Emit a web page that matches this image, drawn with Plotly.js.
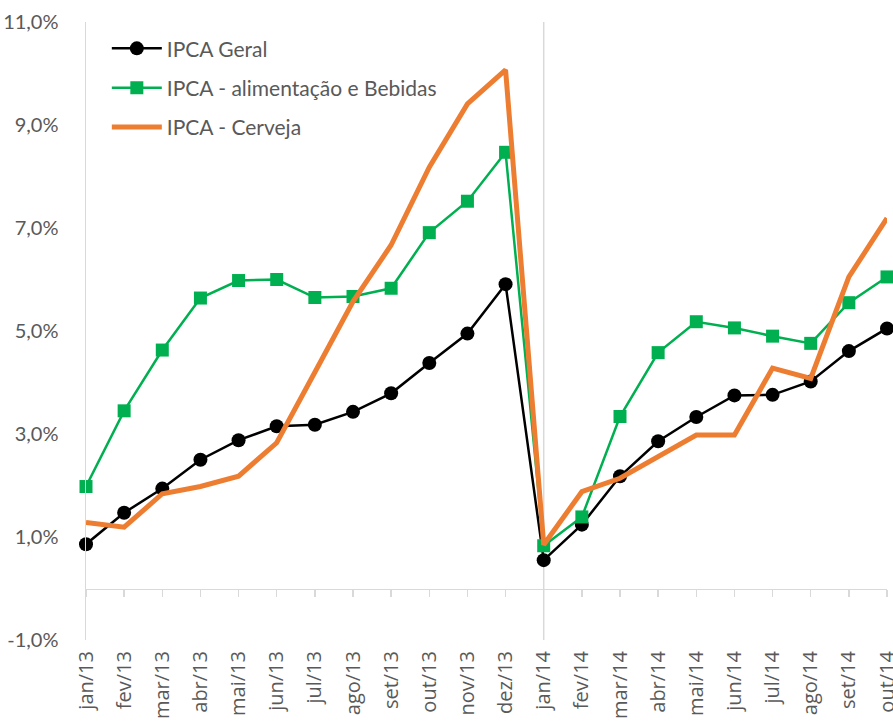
<!DOCTYPE html>
<html>
<head>
<meta charset="utf-8">
<script src="https://cdn.plot.ly/plotly-3.0.1.min.js"></script>
<style>html,body{margin:0;padding:0;background:#fff;}#chart{width:893px;height:723px;}</style>
</head>
<body>
<div id="chart"></div>
<script>
const months = ["jan/13","fev/13","mar/13","abr/13","mai/13","jun/13","jul/13","ago/13","set/13","out/13","nov/13","dez/13",
                "jan/14","fev/14","mar/14","abr/14","mai/14","jun/14","jul/14","ago/14","set/14","out/14"];
const ipcaGeral = [0.86,1.47,1.94,2.50,2.88,3.15,3.18,3.43,3.79,4.38,4.95,5.91,
                   0.55,1.24,2.18,2.86,3.33,3.75,3.76,4.02,4.61,5.05];
const ipcaAlim = [1.98,3.45,4.63,5.64,5.98,6.00,5.65,5.67,5.83,6.91,7.52,8.47,
                  0.83,1.39,3.34,4.58,5.18,5.06,4.90,4.76,5.55,6.05];
const ipcaCerveja = [1.28,1.19,1.84,1.98,2.18,2.83,4.20,5.57,6.67,8.18,9.41,10.07,
                     0.85,1.88,2.14,2.56,2.98,2.98,4.28,4.08,6.05,7.19];
const yTicks = [-1,1,3,5,7,9,11];
const yTickLabels = ["-1,0%","1,0%","3,0%","5,0%","7,0%","9,0%","11,0%"];
const names = ["IPCA Geral","IPCA - alimentação e Bebidas","IPCA - Cerveja"];

const FONT = "Lato, 'Liberation Sans Narrow', sans-serif";
const XFONT = "'Open Sans', sans-serif";
const GRAY = "#D9D9D9";
const TXT = "#595959";

const traces = [
  {x: months, y: ipcaGeral, name: names[0], type: "scatter", mode: "lines+markers",
   line: {color: "#000000", width: 2.5}, marker: {symbol: "circle", size: 14, color: "#000000"},
   legendgroup: "a", cliponaxis: false, xaxis: "x", yaxis: "y"},
  {x: months, y: ipcaAlim, name: names[1], type: "scatter", mode: "lines+markers",
   line: {color: "#00B050", width: 2.5}, marker: {symbol: "square", size: 13, color: "#00B050"},
   legendgroup: "b", cliponaxis: false, xaxis: "x", yaxis: "y"},
  {x: months, y: ipcaCerveja, name: names[2], type: "scatter", mode: "lines",
   line: {color: "#ED7D31", width: 5}, legendgroup: "c", cliponaxis: false, xaxis: "x2", yaxis: "y"}
];

const layout = {
  width: 893, height: 723,
  margin: {l: 86, r: 6, t: 22, b: 83},
  paper_bgcolor: "#fff", plot_bgcolor: "rgba(0,0,0,0)",
  font: {family: FONT, color: TXT, size: 18},
  showlegend: true,
  legend: {x: 0.026, y: 0.99, xanchor: "left", yanchor: "top", bgcolor: "rgba(0,0,0,0)",
           traceorder: "grouped", tracegroupgap: 9, itemwidth: 50,
           font: {family: FONT, size: 21, color: TXT}},
  xaxis: {type: "category", range: [0, 21], showline: false, showgrid: false, zeroline: false,
          ticks: "", tickangle: -90, ticklabelstandoff: 6,
          tickfont: {family: XFONT, size: 20, color: TXT}, fixedrange: true},
  xaxis2: {type: "category", range: [0, 21], overlaying: "x", anchor: "free", position: 1/12,
           showline: true, linecolor: GRAY, linewidth: 1.5, ticks: "outside", ticklen: 7,
           tickcolor: GRAY, tickwidth: 1.5, showticklabels: false, showgrid: false, zeroline: false},
  yaxis: {range: [-1, 11], tickmode: "array", tickvals: yTicks, ticktext: yTickLabels,
          showline: true, linecolor: GRAY, linewidth: 1.5, showgrid: false, zeroline: false,
          ticks: "", ticklabelstandoff: 22, tickfont: {family: FONT, size: 20, color: TXT}},
  shapes: [{type: "line", xref: "x", yref: "paper", x0: 12, x1: 12, y0: 0, y1: 1,
            line: {color: GRAY, width: 1.5}, layer: "below"}]
};

Plotly.newPlot("chart", traces, layout, {displayModeBar: false, staticPlot: true});
</script>
</body>
</html>
